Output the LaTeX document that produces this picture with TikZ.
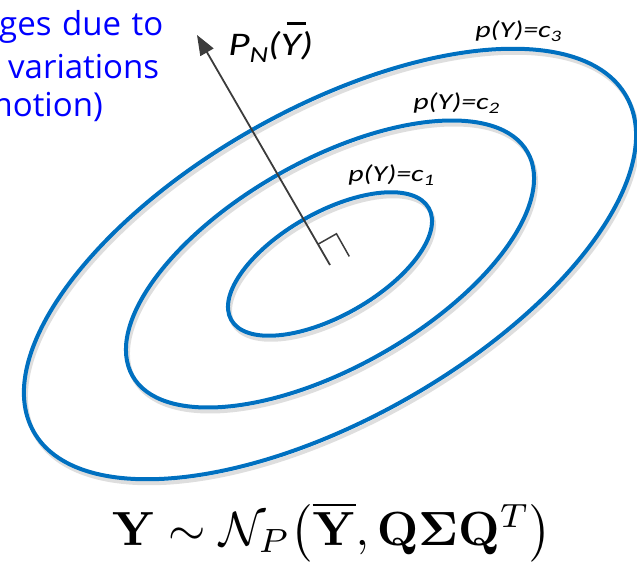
\documentclass[tikz,border=0pt]{standalone}
\usepackage[no-math]{fontspec}
\usepackage{graphicx}
\usetikzlibrary{arrows.meta,calc}
\newfontfamily\labfont{Carlito}
\newfontfamily\bluefont{Open Sans}
\definecolor{ellblue}{RGB}{0,112,192}
\definecolor{axisgray}{RGB}{60,60,60}
\newcommand\smallsub[1]{\raisebox{-4pt}{\fontsize{16}{16}\selectfont #1}}
\newcommand\ybar{\rlap{\hspace{5pt}\raisebox{31pt}{\rule{15pt}{2.5pt}}}Y}
\begin{document}
\begin{tikzpicture}[x=1pt,y=1pt,
  contour/.style={draw=ellblue,line width=4pt},
  shadowline/.style={draw=black!13,line width=4pt},
  lab/.style={inner sep=0pt,anchor=base west,xscale=1.3,
    font={\labfont\itshape\fontsize{23}{23}\selectfont}},
  bluetxt/.style={inner sep=0pt,text=blue,
    font={\bluefont\fontsize{33}{33}\selectfont}},
  axisline/.style={draw=axisgray,line width=1.8pt},
  anglemark/.style={draw=axisgray,line width=1.5pt}]
\useasboundingbox (0,0) rectangle (637,-572);
\clip (0,0) rectangle (637,-572);
% contour shadows
\foreach \k in {1,2,3} {
  \draw[shadowline, rotate around={29.5:(332,-268)}]
    (332,-268) ellipse[x radius=113.5*\k, y radius=51.7*\k];
}
% contours
\foreach \k in {1,2,3} {
  \draw[contour, rotate around={29.5:(330,-264)}]
    (330,-264) ellipse[x radius=113.5*\k, y radius=51.7*\k];
}
% axis
\coordinate (O) at (330,-265);
\coordinate (tip) at (197,-35);
\draw[axisline,-{Triangle[length=20pt,width=15pt]}] (O) -- (tip);
\coordinate (A) at ($(O)+(119.5:24)$);
\coordinate (B) at ($(A)+(29.5:21)$);
\coordinate (C) at ($(O)+(29.5:21)+(119.5:-2)$);
\draw[anglemark] (A) -- (B) -- (C);
% labels
\node[lab] (c1) at (348,-182) {p(Y)=c\smallsub{1}};
\node[lab] (c2) at (413,-110) {p(Y)=c\smallsub{2}};
\node[lab] (c3) at (475,-38) {p(Y)=c\smallsub{3}};
\node[inner sep=0pt,anchor=base west,xscale=1.25,font={\labfont\itshape\fontsize{33}{33}\selectfont}]
  (pn) at (228,-56) {P\raisebox{-7pt}{\fontsize{23}{23}\selectfont N}(\ybar)};
% blue text
\node[bluetxt,anchor=base west] (b1) at (-1,-36) {\hbox to 164pt{ges\hfil due\hfil to}};
\node[bluetxt,anchor=base west] (b2) at (8,-79) {variations};
\node[bluetxt,anchor=base east] (b3) at (103,-117) {motion)};
% formula
\node[inner sep=0pt,anchor=base] (f) at (332,-545)
  {\scalebox{4.8}{$\mathbf{Y}\sim\mathcal{N}_P{\left(\overline{\mathbf{Y}},\mathbf{Q}\mathbf{\Sigma}\mathbf{Q}^T\right)}$}};
\end{tikzpicture}
\end{document}
